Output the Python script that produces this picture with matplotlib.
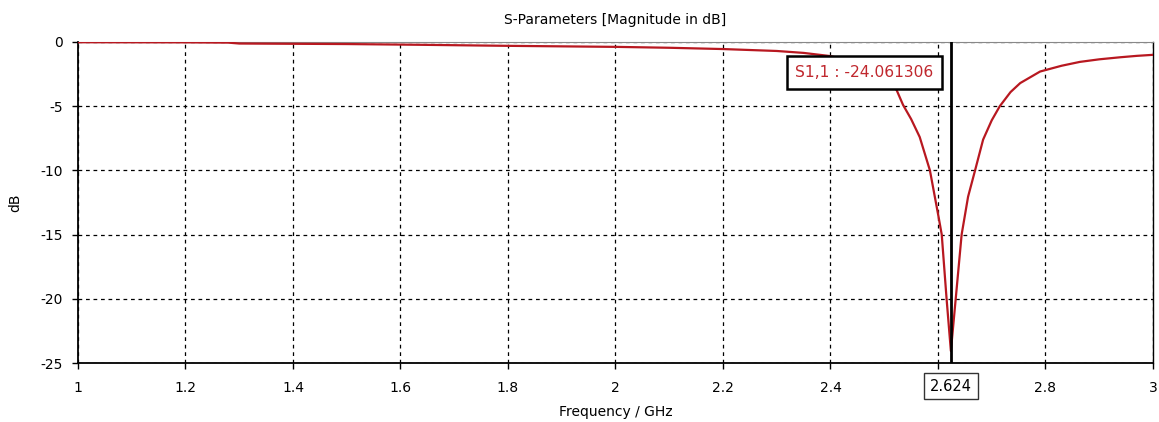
import numpy as np
import matplotlib.pyplot as plt

plt.rcParams['axes.unicode_minus'] = False

# S11 magnitude
freq = [1.0, 1.2, 1.28, 1.3, 1.5, 1.64, 1.8, 2.0, 2.1, 2.2, 2.3, 2.35, 2.4,
        2.45, 2.48, 2.5, 2.523, 2.535, 2.55, 2.566, 2.585, 2.601, 2.607,
        2.616, 2.624, 2.633, 2.644, 2.656, 2.669, 2.684, 2.7, 2.715, 2.735,
        2.753, 2.79, 2.83, 2.864, 2.9, 2.939, 2.97, 3.0]
s11 = [-0.02, -0.03, -0.05, -0.12, -0.16, -0.22, -0.3, -0.38, -0.45, -0.55,
       -0.7, -0.85, -1.1, -1.6, -2.2, -2.8, -3.74, -4.9, -6.0, -7.4, -10.0,
       -13.6, -15.0, -20.0, -24.061306, -20.0, -15.0, -12.05, -10.0, -7.6,
       -6.1, -5.0, -3.9, -3.2, -2.3, -1.85, -1.55, -1.35, -1.19, -1.08, -1.0]

marker_f = 2.624
marker_txt = 'S1,1 : -24.061306'
xticks = [1, 1.2, 1.4, 1.6, 1.8, 2, 2.2, 2.4, 2.6, 2.8, 3]
xlabels = ['1', '1.2', '1.4', '1.6', '1.8', '2', '2.2', '2.4', '', '2.8', '3']
yticks = [0, -5, -10, -15, -20, -25]

fig = plt.figure(figsize=(11.59, 4.22), dpi=100)
ax = fig.add_axes([0.0673, 0.1398, 0.9275, 0.7607])

ax.plot(freq, s11, color='#b81820', lw=1.6, zorder=3)
ax.axvline(marker_f, color='black', lw=2, zorder=4)

ax.set_xlim(1, 3)
ax.set_ylim(-25, 0)
ax.set_xticks(xticks)
ax.set_xticklabels(xlabels)
ax.set_yticks(yticks)
ax.grid(True, color='black', linestyle=(0, (3, 3)), lw=0.9)
ax.tick_params(direction='out', length=4, width=1, labelsize=10)
ax.tick_params(axis='x', pad=9)
ax.tick_params(axis='y', pad=7)

for s in ['left', 'bottom']:
    ax.spines[s].set_linewidth(1.3)
ax.spines['top'].set_color('#888888')
ax.spines['top'].set_linewidth(0.8)
ax.spines['right'].set_linewidth(1.0)

ax.set_title('S-Parameters [Magnitude in dB]', fontsize=10, pad=13)
ax.set_xlabel('Frequency / GHz', fontsize=10, labelpad=7)
ax.set_ylabel('dB', fontsize=10, labelpad=13)

# boxed marker frequency under the axis
ax.text(marker_f, -26.8, '2.624', ha='center', va='center', fontsize=10.5,
        clip_on=False,
        bbox=dict(boxstyle='square,pad=0.4', fc='white', ec='#333333', lw=1))

# marker value box
ax.text(2.4633, -2.375, marker_txt, ha='center', va='center', fontsize=11.2,
        color='#c0282e', zorder=5,
        bbox=dict(boxstyle='square,pad=0.55', fc='white', ec='black', lw=1.8))

plt.savefig('out.png')
